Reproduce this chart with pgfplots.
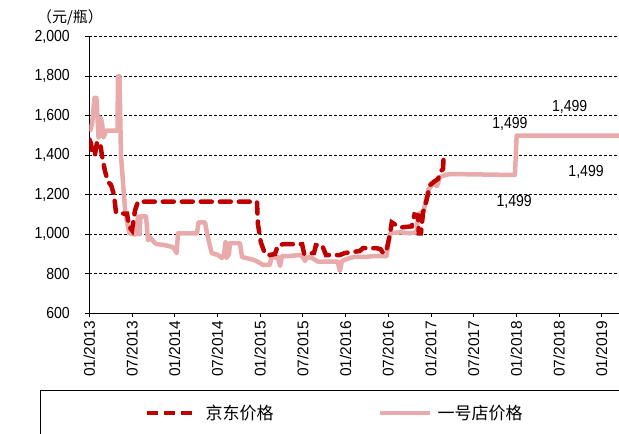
\documentclass[border=0pt]{standalone}
\usepackage{fontspec}
\setmainfont{Liberation Sans}
\newfontfamily\narrowsans[FakeStretch=0.88]{Liberation Sans}
\newfontfamily\cjk{Noto Sans CJK SC}
\usepackage{pgfplots}
\pgfplotsset{compat=1.18}
\definecolor{jdred}{HTML}{C00000}
\definecolor{yhdpink}{HTML}{E8AAAA}

\begin{document}
\begin{tikzpicture}[x=1pt,y=1pt]
\begin{axis}[
  at={(89.3pt,120.7pt)}, anchor=south west,
  scale only axis, width=529.7pt, height=276.6pt,
  xmin=0, xmax=74.43, ymin=600, ymax=2000,
  axis x line=bottom, axis y line=left,
  axis line style={-, line width=0.9pt},
  tick align=outside, major tick length=4pt,
  tick style={black, line width=0.8pt},
  xtick={0,6,...,72},
  xticklabels={01/2013,07/2013,01/2014,07/2014,01/2015,07/2015,01/2016,07/2016,01/2017,07/2017,01/2018,07/2018,01/2019},
  xticklabel style={rotate=90, anchor=east, font=\fontsize{15.5}{15.5}\selectfont},
  ytick={600,800,...,2000},
  yticklabels={600,800,{1,000},{1,200},{1,400},{1,600},{1,800},{2,000}},
  yticklabel style={font=\narrowsans\fontsize{16}{16}\selectfont, xshift=-12pt},
  ymajorgrids,
  grid style={black, dash pattern=on 3pt off 2pt, line width=0.7pt},
  clip mode=individual,
]
% 一号店价格 (month index since 01/2013)
\addplot[yhdpink, line width=4.5pt, line join=round] coordinates {
(0.1,1520) (0.4,1560) (0.73,1690) (1.0,1690) (1.3,1490) (1.6,1590) (1.8,1560)
(2.0,1490) (2.35,1525) (3.96,1525) (4.03,1800) (4.24,1800) (4.45,1400)
(5.06,1107) (5.62,1005) (6.28,1000) (6.56,1000) (6.84,1090) (7.05,1000)
(7.19,1090) (7.97,1090) (8.25,970) (8.53,985) (9.23,955) (9.51,950)
(10.64,945) (11.76,935) (12.28,905) (12.46,1005) (15.13,1005) (15.34,1060)
(16.26,1060) (16.54,1005) (16.82,960) (17.2,905) (18.08,895) (18.65,880)
(18.93,900) (19.14,960) (19.28,880) (19.63,900) (19.77,955) (21.17,955)
(21.46,885) (22.58,875) (23.14,870) (23.71,860) (24.41,845) (25.39,845)
(25.63,900) (26.1,880) (26.5,885) (26.8,840) (27.08,890) (28.2,890)
(29.6,895) (30.0,885) (30.3,865) (30.6,885) (31.3,880) (32.1,862)
(33.8,862) (34.9,862) (35.2,815) (35.5,865) (36.6,880) (37.3,886)
(38.7,885) (40.1,890) (41.8,890) (42.0,950) (42.25,1005) (43.65,1010)
(45.06,1005) (46.0,1010) (46.2,1100) (47.0,1120) (47.6,1224) (48.3,1255)
(48.85,1245) (49.3,1290) (50.0,1300) (50.7,1305) (59.8,1300) (60.05,1499)
(74.43,1499)
};
% 京东价格
\addplot[jdred, line width=4.5pt, line cap=round, dash pattern=on 11pt off 8pt] coordinates {
(0.0,1480) (0.24,1460) (0.45,1400) (0.8,1405) (1.08,1465) (1.5,1465)
(1.78,1400) (2.2,1320) (2.63,1265) (3.05,1250) (3.47,1200) (3.75,1110)
(4.6,1105) (5.3,1105) (5.58,1040) (6.0,1020) (6.42,1120) (6.84,1165)
(23.56,1165) (23.7,1050) (24.1,960) (24.7,900) (25.39,895) (26.1,900)
(26.5,945) (27.35,950) (29.9,950) (30.2,900) (31.57,905) (31.85,945)
(32.7,945) (33.26,895) (35.2,895) (35.9,905) (36.9,910) (38.0,915)
(38.45,930) (40.3,930) (40.9,925) (41.3,905) (41.7,910) (42.25,1000)
(42.5,1060) (43.4,1040) (43.9,1035) (45.3,1040) (45.7,1100) (46.2,1095)
(46.3,1005) (46.6,1005) (46.9,1110) (47.3,1160) (47.9,1250) (48.4,1265)
(49.0,1280) (49.4,1320) (49.7,1330) (49.8,1400) (50.0,1410)
};
\node[font=\narrowsans\fontsize{16}{16}\selectfont] at (axis cs:59.1,1558) {1,499};
\node[font=\narrowsans\fontsize{16}{16}\selectfont] at (axis cs:67.5,1644) {1,499};
\node[font=\narrowsans\fontsize{16}{16}\selectfont] at (axis cs:69.8,1315) {1,499};
\node[font=\narrowsans\fontsize{16}{16}\selectfont] at (axis cs:59.7,1163) {1,499};
\end{axis}
\node[font=\cjk\fontsize{15}{15}\selectfont] at (70,417) {（元/瓶）};
% legend box
\draw[line width=0.9pt] (40,-10) -- (40,44) -- (630,44);
\draw[jdred, line width=4.5pt, dash pattern=on 11pt off 6pt] (147,21) -- (193,21);
\node[anchor=west, font=\cjk\fontsize{17}{17}\selectfont] at (202,21) {京东价格};
\draw[yhdpink, line width=4.5pt] (380,21) -- (430,21);
\node[anchor=west, font=\cjk\fontsize{17}{17}\selectfont] at (434,21) {一号店价格};
\pgfresetboundingbox
\useasboundingbox (0,0) rectangle (619,434);
\end{tikzpicture}
\end{document}
